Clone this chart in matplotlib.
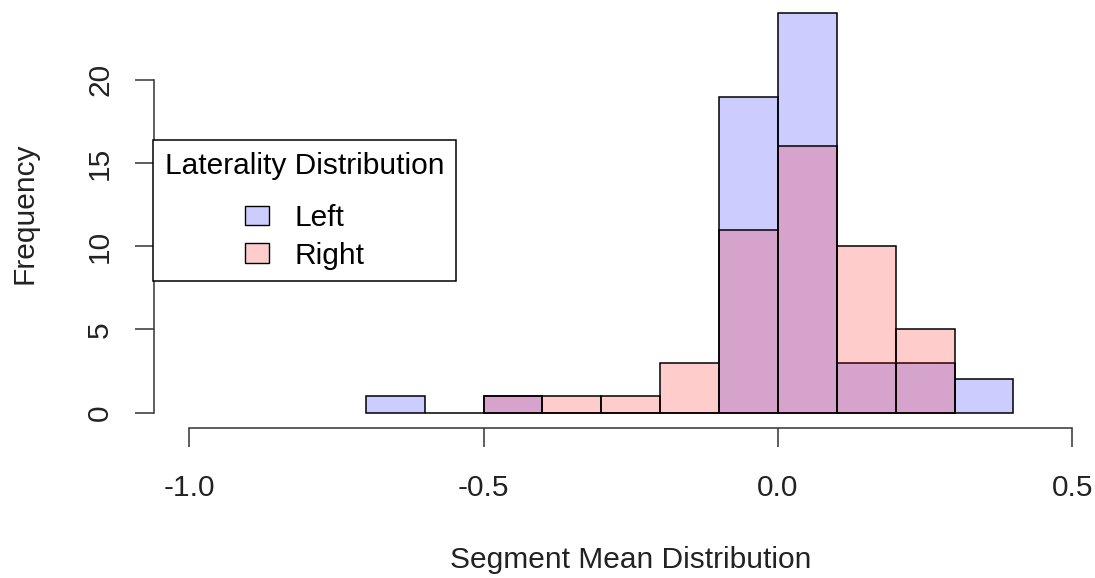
import numpy as np
import matplotlib
matplotlib.use("Agg")
import matplotlib.pyplot as plt
from matplotlib.patches import Patch

# histogram counts (bin width 0.1)
left_edges = np.round(np.arange(-0.7, 0.41, 0.1), 2)
left_counts = [1, 0, 1, 0, 0, 0, 19, 24, 3, 3, 2]
right_edges = np.round(np.arange(-0.5, 0.31, 0.1), 2)
right_counts = [1, 1, 1, 3, 11, 16, 10, 5]

x_ticks = [-1.0, -0.5, 0.0, 0.5]
x_tick_labels = ["-1.0", "-0.5", "0.0", "0.5"]
y_ticks = [0, 5, 10, 15, 20]

left_color = (0, 0, 1, 0.2)
right_color = (1, 0, 0, 0.2)

plt.rcParams["font.family"] = ["Liberation Sans", "DejaVu Sans"]
FS = 21.5

fig = plt.figure(figsize=(10.95, 5.78), dpi=100)
# R-like plot region, slightly wider than the picture on the right
ax = fig.add_axes([0.1404, 0.2587, 0.8712, 0.7458])

ax.bar(left_edges[:-1], left_counts, width=0.1, align="edge",
       color=left_color, edgecolor="black", linewidth=1.1)
ax.bar(right_edges[:-1], right_counts, width=0.1, align="edge",
       color=right_color, edgecolor="black", linewidth=1.1)

ax.set_xlim(-1.06, 0.56)
ax.set_ylim(-0.96, 24.96)

for s in ["top", "right"]:
    ax.spines[s].set_visible(False)
ax.spines["left"].set_bounds(0, 20)
ax.spines["bottom"].set_bounds(-1.0, 0.5)
for s in ["left", "bottom"]:
    ax.spines[s].set_color("#333333")
    ax.spines[s].set_linewidth(1.1)

ax.set_xticks(x_ticks)
ax.set_xticklabels(x_tick_labels)
ax.set_yticks(y_ticks)
ax.tick_params(axis="both", length=13.5, width=1.1, color="#333333",
               labelsize=FS, labelcolor="#222222")
ax.tick_params(axis="x", pad=19)
ax.tick_params(axis="y", labelrotation=90, pad=15)
for lab in ax.get_yticklabels():
    lab.set_va("center")

ax.set_xlabel("Segment Mean Distribution", fontsize=FS, color="#222222", labelpad=32)
ax.set_ylabel("Frequency", fontsize=FS, color="#222222", labelpad=34)

handles = [Patch(facecolor=left_color, edgecolor="black", linewidth=1.0),
           Patch(facecolor=right_color, edgecolor="black", linewidth=1.0)]
leg = ax.legend(handles, ["Left", "Right"], title="Laterality Distribution",
                fontsize=FS, title_fontsize=FS, loc="upper left",
                bbox_to_anchor=(153 / 1095, 1 - 140 / 578),
                bbox_transform=fig.transFigure,
                frameon=True, fancybox=False, shadow=False,
                handlelength=0.8, handleheight=0.62, handletextpad=0.85,
                labelspacing=0.31, borderpad=0.4, borderaxespad=0)
leg.get_frame().set_edgecolor("black")
leg.get_frame().set_linewidth(1.1)
leg.get_frame().set_alpha(1)
# wider gap between the title and the entries, as in R's legend()
leg._legend_box.sep = 17.5

fig.savefig("out.png", dpi=100)
